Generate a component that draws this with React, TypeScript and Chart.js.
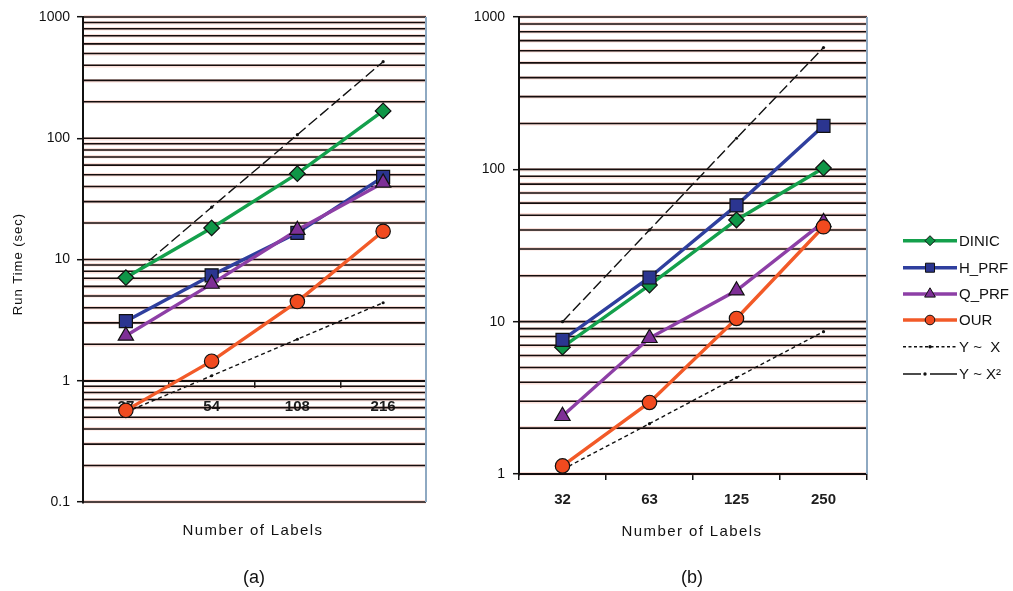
import React, { useEffect, useRef } from "react";
import { Chart, registerables } from "chart.js";

Chart.register(...registerables);

const FONT = "'Liberation Sans', Arial, Helvetica, sans-serif";

// ---------- Panel (a) data ----------
const categoriesA = ["27", "54", "108", "216"];
const dinicA = [7.1, 18.2, 51, 168];
const hprfA = [3.1, 7.4, 16.6, 48];
const qprfA = [2.35, 6.3, 17.5, 43];
const ourA = [0.57, 1.45, 4.5, 17.1];
const linearA = [0.55, 1.1, 2.2, 4.4];
const quadA = [6.7, 27, 107, 428];
const yRangeA = [0.1, 1000];

// ---------- Panel (b) data ----------
const categoriesB = ["32", "63", "125", "250"];
const dinicB = [6.8, 17.4, 46.5, 102];
const hprfB = [7.6, 19.5, 58, 193];
const qprfB = [2.4, 7.8, 16, 45];
const ourB = [1.13, 2.95, 10.5, 42];
const linearB = [1.07, 2.14, 4.3, 8.6];
const quadB = [10, 40, 160, 630];
const yRangeB = [1, 1000];

// ---------- labels ----------
const seriesNames = ["DINIC", "H_PRF", "Q_PRF", "OUR", "Y ~  X", "Y ~ X\u00B2"];
const yAxisTitle = "Run Time (sec)";
const xAxisTitle = "Number of Labels";
const panelTags = ["(a)", "(b)"];

// ---------- styles ----------
const STYLES = [
  { color: "#14a04c", fill: "#0f9647", point: "rectRot", r: 7.8, lr: 5, order: 6 },
  { color: "#2f3f9e", fill: "#2b3590", point: "rect", r: 9.2, lr: 6.4, order: 5 },
  { color: "#8d3fa6", fill: "#7e2f96", point: "triangle", r: 8.8, lr: 6.2, order: 4 },
  { color: "#f25a28", fill: "#f14a1f", point: "circle", r: 7.2, lr: 4.8, order: 3 },
];

function isMajor(v: number) {
  const l = Math.log10(v);
  return Math.abs(l - Math.round(l)) < 1e-9;
}

function logGridValues(min: number, max: number) {
  const out: number[] = [];
  const e0 = Math.round(Math.log10(min));
  const e1 = Math.round(Math.log10(max));
  for (let e = e0; e <= e1; e++) {
    for (let m = 1; m <= 9; m++) {
      const v = Number((m * Math.pow(10, e)).toPrecision(6));
      if (v >= min - 1e-12 && v <= max + 1e-9) out.push(v);
    }
  }
  return out;
}

function buildDatasets(values: number[][]) {
  const sets: any[] = STYLES.map((s, i) => ({
    label: seriesNames[i],
    data: values[i],
    borderColor: s.color,
    backgroundColor: s.fill,
    borderWidth: 3.4,
    pointStyle: s.point,
    pointRadius: s.r,
    pointBackgroundColor: s.fill,
    pointBorderColor: "#111",
    pointBorderWidth: 1.2,
    tension: 0,
    order: s.order,
  }));
  sets.push({
    label: seriesNames[4],
    data: values[4],
    borderColor: "#111",
    borderWidth: 1.4,
    borderDash: [4, 3],
    pointRadius: 1.6,
    pointBackgroundColor: "#111",
    pointBorderWidth: 0,
    order: 10,
  });
  sets.push({
    label: seriesNames[5],
    data: values[5],
    borderColor: "#111",
    borderWidth: 1.4,
    borderDash: [11, 4],
    pointRadius: 1.6,
    pointBackgroundColor: "#111",
    pointBorderWidth: 0,
    order: 9,
  });
  return sets;
}

const gridInk = {
  id: "gridInk",
  beforeDatasetsDraw(chart: any) {
    const { ctx, chartArea: ca, scales } = chart;
    const y = scales.y;
    ctx.save();
    ctx.strokeStyle = "#140d0d";
    ctx.lineWidth = 1.6;
    y.ticks.forEach((t: any) => {
      const py = y.getPixelForValue(t.value);
      ctx.beginPath();
      ctx.moveTo(ca.left, py);
      ctx.lineTo(ca.right, py);
      ctx.stroke();
    });
    ctx.strokeStyle = "#8ea9c2";
    ctx.lineWidth = 2;
    ctx.beginPath();
    ctx.moveTo(ca.right, ca.top);
    ctx.lineTo(ca.right, ca.bottom);
    ctx.stroke();
    ctx.restore();
  },
};

type TextItem = { text: string; x: number; y: number; size: number; spacing: number; rotate?: boolean };

function titlePlugin(items: TextItem[]) {
  return {
    id: "titles",
    afterDraw(chart: any) {
      const ctx = chart.ctx;
      items.forEach((it) => {
        ctx.save();
        ctx.fillStyle = "#111";
        ctx.font = `${it.size}px ${FONT}`;
        (ctx as any).letterSpacing = `${it.spacing}px`;
        ctx.textAlign = "center";
        ctx.textBaseline = "middle";
        ctx.translate(it.x, it.y);
        if (it.rotate) ctx.rotate(-Math.PI / 2);
        ctx.fillText(it.text, 0, 0);
        ctx.restore();
      });
    },
  };
}

function drawMarker(ctx: CanvasRenderingContext2D, style: string, x: number, y: number, r: number) {
  ctx.beginPath();
  if (style === "circle") {
    ctx.arc(x, y, r, 0, Math.PI * 2);
  } else if (style === "rect") {
    const s = r * Math.SQRT1_2;
    ctx.rect(x - s, y - s, 2 * s, 2 * s);
  } else if (style === "rectRot") {
    ctx.moveTo(x - r, y);
    ctx.lineTo(x, y - r);
    ctx.lineTo(x + r, y);
    ctx.lineTo(x, y + r);
    ctx.closePath();
  } else {
    const a = (2 * Math.PI) / 3;
    ctx.moveTo(x, y - r);
    ctx.lineTo(x + Math.sin(a) * r, y - Math.cos(a) * r);
    ctx.lineTo(x - Math.sin(a) * r, y - Math.cos(a) * r);
    ctx.closePath();
  }
  ctx.fill();
  ctx.stroke();
}

const legendRows = [240.7, 267.7, 294, 320, 346.7, 374];
const legendPlugin = {
  id: "sideLegend",
  afterDraw(chart: any) {
    const ctx: CanvasRenderingContext2D = chart.ctx;
    const x1 = 463;
    const x2 = 517;
    const xm = (x1 + x2) / 2;
    ctx.save();
    seriesNames.forEach((name, i) => {
      const y = legendRows[i];
      if (i < 4) {
        const s = STYLES[i];
        ctx.strokeStyle = s.color;
        ctx.lineWidth = 3.4;
        ctx.beginPath();
        ctx.moveTo(x1, y);
        ctx.lineTo(x2, y);
        ctx.stroke();
        ctx.fillStyle = s.fill;
        ctx.strokeStyle = "#111";
        ctx.lineWidth = 1;
        drawMarker(ctx, s.point, xm, y, s.lr);
      } else if (i === 4) {
        ctx.strokeStyle = "#111";
        ctx.lineWidth = 1.4;
        ctx.setLineDash([3, 2.5]);
        ctx.beginPath();
        ctx.moveTo(x1, y);
        ctx.lineTo(x2, y);
        ctx.stroke();
        ctx.setLineDash([]);
        ctx.fillStyle = "#111";
        ctx.beginPath();
        ctx.arc(xm, y, 1.7, 0, Math.PI * 2);
        ctx.fill();
      } else {
        ctx.strokeStyle = "#111";
        ctx.lineWidth = 1.5;
        ctx.beginPath();
        ctx.moveTo(x1, y);
        ctx.lineTo(x1 + 18, y);
        ctx.moveTo(x1 + 27, y);
        ctx.lineTo(x2, y);
        ctx.stroke();
        ctx.fillStyle = "#111";
        ctx.beginPath();
        ctx.arc(x1 + 22, y, 1.7, 0, Math.PI * 2);
        ctx.fill();
      }
      ctx.fillStyle = "#111";
      ctx.font = `15px ${FONT}`;
      ctx.textAlign = "left";
      ctx.textBaseline = "middle";
      ctx.fillText(name, x2 + 2, y + 1);
    });
    ctx.restore();
  },
};

type PanelCfg = {
  labels: string[];
  values: number[][];
  yRange: number[];
  xAtOne: boolean;
  xHeight: number;
  yWidth: number;
  padRight: number;
  padTop: number;
  padBottom: number;
  yTickPad: number;
  titles: TextItem[];
  legend: boolean;
};

function buildChart(canvas: HTMLCanvasElement, cfg: PanelCfg) {
  const gridVals = logGridValues(cfg.yRange[0], cfg.yRange[1]);
  return new Chart(canvas, {
    type: "line",
    data: { labels: cfg.labels, datasets: buildDatasets(cfg.values) },
    options: {
      responsive: false,
      animation: false,
      devicePixelRatio: 1,
      events: [],
      layout: { padding: { left: 0, top: cfg.padTop, right: cfg.padRight, bottom: cfg.padBottom } },
      plugins: { legend: { display: false }, tooltip: { enabled: false }, title: { display: false } },
      scales: {
        x: {
          type: "category",
          offset: true,
          position: cfg.xAtOne ? ({ y: 1 } as any) : "bottom",
          afterFit: (s: any) => {
            s.height = cfg.xHeight;
          },
          grid: {
            offset: true,
            drawOnChartArea: false,
            drawTicks: true,
            tickLength: 6,
            color: "#111",
            lineWidth: 1.5,
          },
          border: { display: true, color: "#111", width: 2 },
          ticks: {
            autoSkip: false,
            maxRotation: 0,
            padding: 11,
            color: "#1e1e1e",
            font: { family: FONT, size: 15, weight: "bold" },
          },
        },
        y: {
          type: "logarithmic",
          min: cfg.yRange[0],
          max: cfg.yRange[1],
          position: "left",
          afterFit: (s: any) => {
            s.width = cfg.yWidth;
          },
          afterBuildTicks: (s: any) => {
            s.ticks = gridVals.map((v) => ({ value: v, major: isMajor(v) }));
          },
          grid: {
            color: "rgba(240,150,130,0.3)",
            lineWidth: 3.4,
            drawTicks: true,
            tickLength: 6,
            tickWidth: 1.5,
            tickColor: (c: any) => (c.tick && isMajor(c.tick.value) ? "#111" : "rgba(0,0,0,0)"),
          },
          border: { display: true, color: "#111", width: 2 },
          ticks: {
            autoSkip: false,
            padding: cfg.yTickPad,
            color: "#111",
            font: { family: FONT, size: 14 },
            callback: (v: any) => (isMajor(Number(v)) ? String(Number(v)) : ""),
          },
        },
      },
    } as any,
    plugins: [gridInk, titlePlugin(cfg.titles), ...(cfg.legend ? [legendPlugin] : [])],
  });
}

export default function App() {
  const refA = useRef<HTMLCanvasElement>(null);
  const refB = useRef<HTMLCanvasElement>(null);

  useEffect(() => {
    Chart.defaults.font.family = FONT;
    const a = buildChart(refA.current!, {
      labels: categoriesA,
      values: [dinicA, hprfA, qprfA, ourA, linearA, quadA],
      yRange: yRangeA,
      xAtOne: true,
      xHeight: 0,
      yWidth: 83,
      padRight: 14,
      padTop: 17,
      padBottom: 89,
      yTickPad: 7,
      titles: [
        { text: yAxisTitle, x: 18, y: 264, size: 13, spacing: 1, rotate: true },
        { text: xAxisTitle, x: 253, y: 531, size: 15, spacing: 1.4 },
        { text: panelTags[0], x: 254, y: 578, size: 18, spacing: 0 },
      ],
      legend: false,
    });
    const b = buildChart(refB.current!, {
      labels: categoriesB,
      values: [dinicB, hprfB, qprfB, ourB, linearB, quadB],
      yRange: yRangeB,
      xAtOne: false,
      xHeight: 50,
      yWidth: 79,
      padRight: 146,
      padTop: 17,
      padBottom: 67,
      yTickPad: 8,
      titles: [
        { text: xAxisTitle, x: 252, y: 532, size: 15, spacing: 1.4 },
        { text: panelTags[1], x: 252, y: 578, size: 18, spacing: 0 },
      ],
      legend: true,
    });
    return () => {
      a.destroy();
      b.destroy();
    };
  }, []);

  return (
    <div style={{ position: "fixed", left: 0, top: 0, width: 1013, height: 591, background: "#fff" }}>
      <canvas
        ref={refA}
        width={440}
        height={591}
        style={{ position: "absolute", left: 0, top: 0, width: 440, height: 591 }}
      />
      <canvas
        ref={refB}
        width={573}
        height={591}
        style={{ position: "absolute", left: 440, top: 0, width: 573, height: 591 }}
      />
    </div>
  );
}
